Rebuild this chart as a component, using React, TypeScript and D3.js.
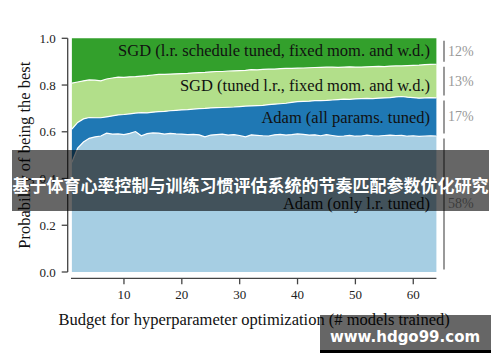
import React from "react";
import * as d3 from "d3";

const budgets = d3.range(1, 65);
const adamLrOnly = [
  0.47, 0.53, 0.556, 0.572, 0.578, 0.582, 0.594, 0.59, 0.591, 0.588, 0.593, 0.601, 0.583, 0.592, 0.595, 0.594,
  0.59, 0.593, 0.591, 0.59, 0.588, 0.589, 0.587, 0.578, 0.586, 0.588, 0.59, 0.586, 0.588, 0.584, 0.578, 0.587,
  0.585, 0.583, 0.582, 0.587, 0.589, 0.586, 0.588, 0.591, 0.589, 0.586, 0.587, 0.583, 0.588, 0.584, 0.58, 0.582,
  0.585, 0.581, 0.582, 0.586, 0.583, 0.582, 0.584, 0.586, 0.584, 0.585, 0.581, 0.583, 0.58, 0.582, 0.583, 0.582,
];
const adamAllParams = [
  0.141, 0.11, 0.099, 0.089, 0.082, 0.078, 0.07, 0.078, 0.081, 0.086, 0.084, 0.079, 0.099, 0.089, 0.089, 0.092,
  0.097, 0.097, 0.101, 0.104, 0.107, 0.108, 0.112, 0.122, 0.116, 0.115, 0.114, 0.119, 0.118, 0.124, 0.132, 0.124,
  0.127, 0.13, 0.134, 0.131, 0.131, 0.136, 0.138, 0.138, 0.141, 0.145, 0.146, 0.15, 0.146, 0.152, 0.158, 0.158,
  0.154, 0.16, 0.16, 0.157, 0.159, 0.162, 0.161, 0.16, 0.165, 0.166, 0.167, 0.163, 0.164, 0.163, 0.163, 0.163,
];
const sgdTunedLr = [
  0.197, 0.173, 0.163, 0.161, 0.161, 0.158, 0.162, 0.162, 0.162, 0.159, 0.158, 0.156, 0.156, 0.159, 0.159, 0.16,
  0.159, 0.157, 0.156, 0.155, 0.155, 0.155, 0.154, 0.154, 0.154, 0.155, 0.154, 0.155, 0.155, 0.154, 0.153, 0.155,
  0.153, 0.154, 0.152, 0.15, 0.15, 0.149, 0.145, 0.143, 0.143, 0.143, 0.142, 0.143, 0.143, 0.141, 0.138, 0.137,
  0.139, 0.136, 0.135, 0.135, 0.137, 0.136, 0.134, 0.135, 0.133, 0.131, 0.135, 0.138, 0.141, 0.142, 0.142, 0.144,
];
const sgdSchedule = [
  0.192, 0.187, 0.182, 0.178, 0.179, 0.182, 0.174, 0.17, 0.166, 0.167, 0.165, 0.164, 0.162, 0.16, 0.157, 0.154,
  0.154, 0.153, 0.152, 0.151, 0.15, 0.148, 0.147, 0.146, 0.144, 0.142, 0.142, 0.14, 0.139, 0.138, 0.137, 0.134,
  0.135, 0.133, 0.132, 0.132, 0.13, 0.129, 0.129, 0.128, 0.127, 0.126, 0.125, 0.124, 0.123, 0.123, 0.124, 0.123,
  0.122, 0.123, 0.123, 0.122, 0.121, 0.12, 0.121, 0.119, 0.118, 0.118, 0.117, 0.116, 0.115, 0.113, 0.112, 0.111,
];
const seriesKeys = ["adamLr", "adamAll", "sgdTuned", "sgdSched"];
const seriesNames = [
  "Adam (only l.r. tuned)",
  "Adam (all params. tuned)",
  "SGD (tuned l.r., fixed mom. and w.d.)",
  "SGD (l.r. schedule tuned, fixed mom. and w.d.)",
];
const seriesColors = ["#a6cee3", "#1f78b4", "#b2df8a", "#33a02c"];
const shareLabels = ["58%", "17%", "13%", "12%"];
const labelLevels = [0.291, 0.659, 0.796, 0.946];
const xTicks = [10, 20, 30, 40, 50, 60];
const yTicks = [0, 0.2, 0.4, 0.6, 0.8, 1.0];
const title = "基于体育心率控制与训练习惯评估系统的节奏匹配参数优化研究";
const watermark = "www.hdgo99.com";

export default function App() {
  const W = 500, H = 362;
  const x = d3.scaleLinear().domain([0, 64]).range([66.1, 436.4]);
  const y = d3.scaleLinear().domain([0, 1]).range([272, 38.3]);
  const rows = budgets.map((b, i) => ({
    b,
    adamLr: adamLrOnly[i],
    adamAll: adamAllParams[i],
    sgdTuned: sgdTunedLr[i],
    sgdSched: sgdSchedule[i],
  }));
  const stacked = d3.stack<any>().keys(seriesKeys)(rows);
  const area = d3
    .area<any>()
    .x((d) => x(d.data.b))
    .y0((d) => y(d[0]))
    .y1((d) => y(d[1]));
  const topLine = d3
    .line<any>()
    .x((d) => x(d.data.b))
    .y((d) => y(d[1]));
  const serif = "'Liberation Serif', 'Times New Roman', serif";
  const axisColor = "#444";
  const xAxisY = 278.3;
  const yAxisX = 67.7;
  const plotRight = x(64);
  const last = budgets.length - 1;

  return (
    <svg width={W} height={H} style={{ position: "absolute", left: 0, top: 0, background: "#fff" }}>
      <rect x={0} y={0} width={W} height={H} fill="#fff" />
      {stacked.map((s, i) => (
        <path key={"a" + i} d={area(s) || ""} fill={seriesColors[i]} />
      ))}
      {stacked.slice(0, 3).map((s, i) => (
        <path key={"l" + i} d={topLine(s) || ""} fill="none" stroke="#fff" strokeWidth={1.2} />
      ))}
      {seriesNames.map((n, i) => (
        <text
          key={"n" + i}
          x={430}
          y={y(labelLevels[i])}
          textAnchor="end"
          dominantBaseline="central"
          fontFamily={serif}
          fontSize={16.5}
          fill="#111"
        >
          {n}
        </text>
      ))}
      {stacked.map((s, i) => {
        const p = s[last];
        const y1 = y(p[1]) + 2.5;
        const y0 = y(p[0]) - 2.5;
        return (
          <g key={"b" + i}>
            <line x1={444} x2={444} y1={y1} y2={y0} stroke="#999" strokeWidth={2} />
            <text
              x={448}
              y={(y0 + y1) / 2}
              dominantBaseline="central"
              fontFamily={serif}
              fontSize={14}
              fill="#999"
            >
              {shareLabels[i]}
            </text>
          </g>
        );
      })}
      {/* y axis */}
      <line x1={yAxisX} x2={yAxisX} y1={y(0)} y2={y(1)} stroke={axisColor} strokeWidth={1.3} />
      {yTicks.map((t) => (
        <g key={"yt" + t}>
          <line x1={yAxisX - 6} x2={yAxisX} y1={y(t)} y2={y(t)} stroke={axisColor} strokeWidth={1.3} />
          <text
            x={yAxisX - 12}
            y={y(t)}
            textAnchor="end"
            dominantBaseline="central"
            fontFamily={serif}
            fontSize={13}
            fill="#222"
          >
            {t.toFixed(1)}
          </text>
        </g>
      ))}
      {/* x axis */}
      <line x1={x(1) - 0.9} x2={plotRight} y1={xAxisY} y2={xAxisY} stroke={axisColor} strokeWidth={1.3} />
      {xTicks.map((t) => (
        <g key={"xt" + t}>
          <line x1={x(t)} x2={x(t)} y1={xAxisY} y2={xAxisY + 6} stroke={axisColor} strokeWidth={1.3} />
          <text
            x={x(t)}
            y={xAxisY + 16}
            textAnchor="middle"
            dominantBaseline="central"
            fontFamily={serif}
            fontSize={13}
            fill="#222"
          >
            {t}
          </text>
        </g>
      ))}
      <text
        x={(x(1) + plotRight) / 2}
        y={325}
        textAnchor="middle"
        fontFamily={serif}
        fontSize={16.5}
        fill="#111"
      >
        Budget for hyperparameter optimization (# models trained)
      </text>
      <text
        transform={`translate(30, ${(y(0) + y(1)) / 2}) rotate(-90)`}
        textAnchor="middle"
        fontFamily={serif}
        fontSize={16.5}
        fill="#111"
      >
        Probability of being the best
      </text>
      {/* banner */}
      <rect x={12} y={150} width={477} height={61} fill="rgba(0,0,0,0.6)" />
      <text
        x={250.5}
        y={184}
        textAnchor="middle"
        dominantBaseline="central"
        fontFamily="'Noto Sans CJK SC', sans-serif"
        fontWeight="bold"
        fontSize={17}
        fill="#fff"
      >
        {title}
      </text>
      {/* watermark */}
      <rect x={320} y={315} width={171} height={35} fill="rgba(0,0,0,0.6)" />
      <rect x={320} y={350} width={171} height={3} fill="#000" />
      <text
        x={405}
        y={337}
        textAnchor="middle"
        dominantBaseline="central"
        fontFamily="'DejaVu Sans', sans-serif"
        fontWeight="bold"
        fontSize={15}
        fill="#fff"
      >
        {watermark}
      </text>
    </svg>
  );
}
